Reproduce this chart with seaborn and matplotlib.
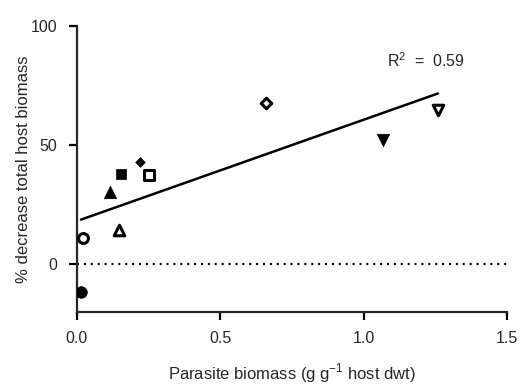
import matplotlib
matplotlib.use("Agg")
import matplotlib.pyplot as plt
import seaborn as sns
import numpy as np
import pandas as pd

# Data
parasite_biomass = [0.014, 0.02, 0.115, 0.146, 0.153, 0.22, 0.252, 0.659, 1.067, 1.259]
decrease_host = [-11.5, 10.9, 30.5, 14.4, 37.9, 42.8, 37.5, 67.8, 52.2, 64.8]
point_markers = ["o", "o", "^", "^", "s", "D", "s", "D", "v", "v"]
point_filled = [True, False, True, False, True, True, False, False, True, False]
x_ticks = [0.0, 0.5, 1.0, 1.5]
x_ticklabels = ["0.0", "0.5", "1.0", "1.5"]
y_ticks = [0, 50, 100]
y_ticklabels = ["0", "50", "100"]
r2_text = "R$^2$  =  0.59"

sns.set_style("ticks")
plt.rcParams["font.family"] = ["Liberation Sans", "DejaVu Sans"]
plt.rcParams["mathtext.fontset"] = "custom"
plt.rcParams["mathtext.rm"] = "Liberation Sans"

fig = plt.figure(figsize=(5.2, 3.87), dpi=100)
ax = fig.add_axes([0.148, 0.194, 0.827, 0.739])

df = pd.DataFrame({"x": parasite_biomass, "y": decrease_host})

# zero reference line
ax.axhline(0, color="black", lw=1.6, ls=(0, (0.9, 2.2)), zorder=1)

# regression line
sns.regplot(data=df, x="x", y="y", ci=None, scatter=False, truncate=True,
            color="black", line_kws={"lw": 1.8, "zorder": 2}, ax=ax)

sizes = {"o": 70, "^": 80, "s": 62, "D": 24, "v": 80}
for xi, yi, m, f in zip(parasite_biomass, decrease_host, point_markers, point_filled):
    s = sizes[m]
    if m == "D" and not f:
        s = 40
    if f:
        sns.scatterplot(x=[xi], y=[yi], marker=m, s=s, color="black",
                        edgecolor="black", linewidth=0.5, ax=ax, zorder=3)
    else:
        sns.scatterplot(x=[xi], y=[yi], marker=m, s=s * 0.72, color="white",
                        edgecolor="black", linewidth=2.2, ax=ax, zorder=3)

ax.text(1.083, 85.5, r2_text, fontsize=11.5, ha="left", va="center")

ax.set_xlim(0, 1.5)
ax.set_ylim(-20, 100)
ax.set_xticks(x_ticks)
ax.set_xticklabels(x_ticklabels)
ax.set_yticks(y_ticks)
ax.set_yticklabels(y_ticklabels)

for side in ["top", "right"]:
    ax.spines[side].set_visible(False)
for side in ["left", "bottom"]:
    ax.spines[side].set_linewidth(1.6)
ax.tick_params(axis="both", length=6, width=1.6, labelsize=11.5, pad=8, color="black")

ax.set_xlabel("Parasite biomass (g g$^{-1}$ host dwt)", fontsize=12, labelpad=11)
ax.set_ylabel("% decrease total host biomass", fontsize=12)
ax.yaxis.set_label_coords(-0.107, 0.5)

fig.savefig("out.png", dpi=100)
